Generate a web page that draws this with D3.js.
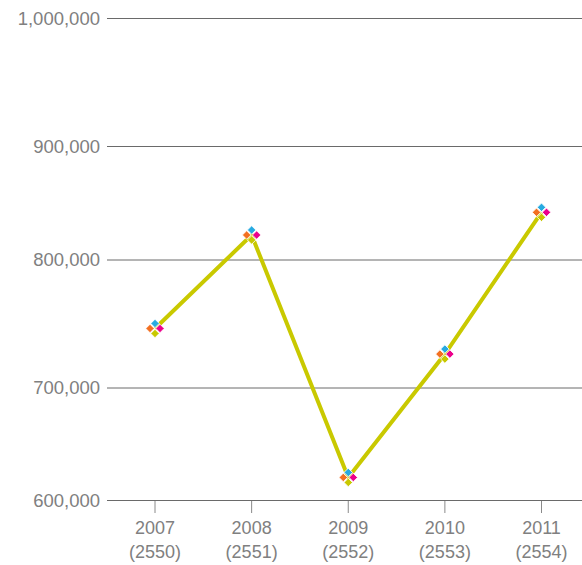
<!DOCTYPE html>
<html>
<head>
<meta charset="utf-8">
<script src="https://cdn.jsdelivr.net/npm/d3@7"></script>
<style>
  body { margin: 0; background: #fff; }
  svg { display: block; font-family: "Liberation Sans", Arial, sans-serif; }
</style>
</head>
<body>
<svg id="svgRoot" width="582" height="565"></svg>
<script>
// data
const years = ["2007", "2008", "2009", "2010", "2011"]
const buddhistYears = ["(2550)", "(2551)", "(2552)", "(2553)", "(2554)"]
const values = [746500, 822000, 620500, 726500, 842000]
const yTicks = [600000, 700000, 800000, 900000, 1000000]

// marker cluster: four small diamonds around each point
const markerColors = ["#27aae1", "#f37021", "#ec008c", "#c8c800"]
const markerOffsets = [[0, -5], [-5, 0], [5, 0], [0, 5]]

const svg = d3.select("#svgRoot")

let width = 582
let height = 565

let scale_x = d3
  .scalePoint()
  .domain(years)
  .range([155, 541.5])

// the grid in the original is not evenly spaced, so map each tick by hand
let scale_y = d3
  .scaleLinear()
  .domain(yTicks)
  .range([500.5, 388, 260, 146.5, 18.5])

// grid + y labels
let g_yAxis = svg.append("g").attr("class", "g_yAxis")
g_yAxis.selectAll("line")
  .data(yTicks)
  .enter()
  .append("line")
  .attr("x1", 107)
  .attr("x2", width)
  .attr("y1", (d) => scale_y(d))
  .attr("y2", (d) => scale_y(d))
  .attr("stroke", "#6a6a6a")
  .attr("stroke-width", 1)

g_yAxis.selectAll("text")
  .data(yTicks)
  .enter()
  .append("text")
  .attr("x", 100)
  .attr("y", (d) => scale_y(d))
  .attr("dy", "0.35em")
  .attr("text-anchor", "end")
  .attr("fill", "#808080")
  .style("font-size", "18.5px")
  .text((d) => d3.format(",")(d))

// x ticks
let g_xAxis = svg.append("g").attr("class", "g_xAxis")
let xt = g_xAxis.selectAll("g")
  .data(years)
  .enter()
  .append("g")
  .attr("transform", (d) => "translate(" + scale_x(d) + ",0)")

xt.append("line")
  .attr("y1", 501)
  .attr("y2", 513)
  .attr("stroke", "#8a8a8a")
  .attr("stroke-width", 1)

xt.append("text")
  .attr("y", 534)
  .attr("text-anchor", "middle")
  .attr("fill", "#808080")
  .style("font-size", "18px")
  .text((d) => d)

xt.append("text")
  .attr("y", 558)
  .attr("text-anchor", "middle")
  .attr("fill", "#808080")
  .style("font-size", "18px")
  .text((d, i) => buddhistYears[i])

// line
let line = d3.line()
  .x((d, i) => scale_x(years[i]))
  .y((d) => scale_y(d))

svg.append("path")
  .datum(values)
  .attr("fill", "none")
  .attr("stroke", "#c9c900")
  .attr("stroke-width", 4)
  .attr("d", line)

// markers
let diamond = d3.symbol(d3.symbolSquare, 36)
let g_pts = svg.append("g").attr("class", "g_pts")
values.forEach((v, i) => {
  markerColors.forEach((c, k) => {
    g_pts.append("path")
      .attr("d", diamond)
      .attr("transform", "translate(" + (scale_x(years[i]) + markerOffsets[k][0]) + "," + (scale_y(v) + markerOffsets[k][1]) + ") rotate(45)")
      .attr("fill", c)
      .attr("stroke", "#fff")
      .attr("stroke-width", 0.8)
  })
})
</script>
</body>
</html>
